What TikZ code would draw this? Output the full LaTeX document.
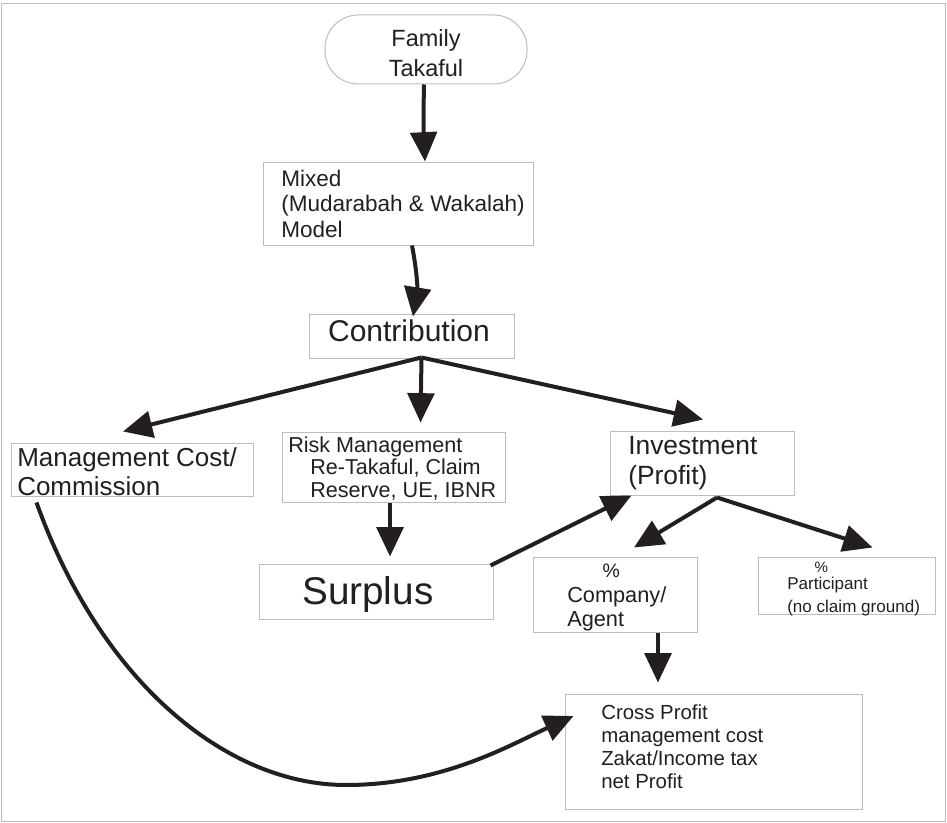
\documentclass[tikz,border=0pt]{standalone}
\usepackage{fontspec}
\setmainfont{Liberation Sans}
\usetikzlibrary{arrows.meta,calc,fit}
\definecolor{ink}{HTML}{231F20}
\definecolor{rule}{HTML}{BDBDBD}
\newcommand{\setfs}[2]{\fontsize{#1}{#2}\selectfont}

\begin{document}
\begin{tikzpicture}[x=0.75pt,y=-0.75pt,
  box/.style={draw=rule, line width=0.75pt, inner sep=0pt},
  lbl/.style={inner sep=0pt, anchor=north west, align=left, text=ink},
  flow/.style={draw=ink, line width=3pt, -{Triangle[length=22pt,width=20pt]}},
  ]
\useasboundingbox (0,0) rectangle (947,823);
% outer frame
\draw[rule, line width=0.75pt] (1.5,4) rectangle (945,821);

% start terminal
\node[box, rounded corners=25pt, minimum width=151.5pt, minimum height=51.75pt,
      align=center, text=ink, font=\setfs{17.6pt}{23pt}] (family) at (426,49.5)
  {\rule{0pt}{18pt}Family\\Takaful};

% boxes
\node[box, fit={(263,163) (533,246)}] (mixed) {};
\node[box, fit={(309,315) (514,359)}] (contrib) {};
\node[box, fit={(11,444) (253,497)}] (mgmt) {};
\node[box, fit={(282,433) (505,503)}] (risk) {};
\node[box, fit={(259,565) (493,620)}] (surplus) {};
\node[box, fit={(610,432) (794,496)}] (invest) {};
\node[box, fit={(533,558) (697,633)}] (company) {};
\node[box, fit={(758,558) (935,615)}] (particip) {};
\node[box, fit={(565,694) (862,809)}] (cross) {};

% box texts
\node[lbl, font=\setfs{16.9pt}{19.1pt}] (mixed-t) at (281,169.5)
  {Mixed\\(Mudarabah \& Wakalah)\\Model};
\node[inner sep=0pt, anchor=base, text=ink, font=\setfs{22.5pt}{27pt}] (contrib-t) at (409,342) {Contribution};
\node[lbl, font=\setfs{19.5pt}{21.75pt}] (mgmt-t) at (17,447) {Management Cost/\\Commission};
\node[lbl, font=\setfs{16.2pt}{16.9pt}] (risk-t) at (288,436.5)
  {Risk Management\\\hspace*{16.5pt}Re-Takaful, Claim\\\hspace*{16.5pt}Reserve, UE, IBNR};
\node[inner sep=0pt, anchor=base west, text=ink, font=\setfs{29pt}{34pt}] (surplus-t) at (302,605) {Surplus};
\node[lbl, font=\setfs{19.8pt}{22.9pt}] (invest-t) at (628,436) {Investment\\(Profit)};
\node[lbl, font=\setfs{16.3pt}{18.4pt}] (company-t) at (567,564)
  {\hspace*{26.6pt}{\setfs{14.6pt}{18.4pt}\%}\\Company/\\Agent};
\node[lbl, font=\setfs{12.8pt}{17.25pt}] (particip-t) at (787,561.5)
  {\hspace*{20.5pt}{\setfs{11.3pt}{17.25pt}\%}\\[-4.5pt]Participant\\(no claim ground)};
\node[lbl, font=\setfs{15.3pt}{17.3pt}] (cross-t) at (601,704)
  {Cross Profit\\management cost\\Zakat/Income tax\\net Profit};

% connectors
\draw[flow] ($(family.south)+(-2,0)$) to[bend right=2] ($(mixed.north)+(27,-1)$);
\draw[flow] ($(mixed.south)+(14,-1)$) to[bend left=10] ($(contrib.north)+(1.5,2)$);
\draw[flow] ($(contrib.south)+(10,-2)$) -- ($(mgmt.north)+(-9,-12)$);
\draw[flow] ($(contrib.south)+(10,-2)$) -- ($(risk.north)+(27,-10)$);
\draw[flow] ($(contrib.south)+(10,-2)$) -- ($(invest.north)+(1,-12)$);
\draw[flow] ($(risk.south)+(-3.5,0)$) -- ($(surplus.north)+(14,-8)$);
\draw[flow] ($(surplus.north east)+(-3,1)$) -- ($(invest.south west)+(22,-1)$);
\draw[flow] ($(invest.south)+(15,1)$) -- ($(company.north)+(19,-10)$);
\draw[flow] ($(invest.south)+(15,1)$) -- ($(particip.north)+(26,-10)$);
\draw[flow] ($(company.south)+(43,0)$) -- ($(cross.north)+(-55.5,-11)$);
\draw[flow] ($(mgmt.south west)+(26,5)$)
  .. controls (100,680) and (225,785) .. (346,785)
  .. controls (442,785) and (510,745) .. ($(cross.west)+(9,-35.5)$);
\end{tikzpicture}
\end{document}
